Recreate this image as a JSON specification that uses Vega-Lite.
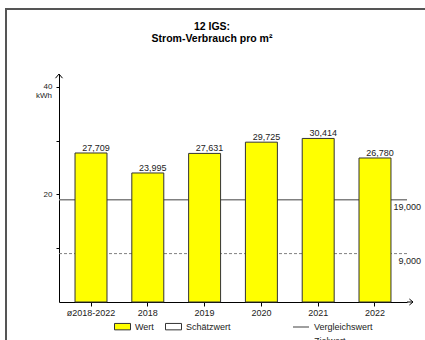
{
  "$schema": "https://vega.github.io/schema/vega-lite/v6.json",
  "width": 348,
  "height": 228,
  "autosize": {"type": "none"},
  "padding": {"left": 59, "top": 74, "right": 18, "bottom": 38},
  "background": "white",
  "config": {
    "view": {"stroke": null},
    "font": "Liberation Sans",
    "locale": {"number": {"decimal": ",", "thousands": ".", "grouping": [3], "currency": ["", " €"]}}
  },
  "title": {
    "text": ["12 IGS:", "Strom-Verbrauch pro m²"],
    "fontSize": 10.5,
    "fontWeight": "bold",
    "font": "Liberation Sans",
    "color": "#000",
    "anchor": "middle",
    "dx": -21,
    "offset": -36,
    "lineHeight": 12
  },
  "datasets": {
    "bars": [
      {"jahr": "ø2018-2022", "wert": 27.709, "typ": "Wert"},
      {"jahr": "2018", "wert": 23.995, "typ": "Wert"},
      {"jahr": "2019", "wert": 27.631, "typ": "Wert"},
      {"jahr": "2020", "wert": 29.725, "typ": "Wert"},
      {"jahr": "2021", "wert": 30.414, "typ": "Wert"},
      {"jahr": "2022", "wert": 26.78, "typ": "Wert"}
    ],
    "refs": [
      {"art": "Vergleichswert", "wert": 19},
      {"art": "Zielwert", "wert": 9}
    ]
  },
  "layer": [
    {
      "data": {"values": [{}]},
      "mark": {"type": "rect", "fill": "transparent", "stroke": "#555", "strokeWidth": 2, "clip": false},
      "encoding": {"x": {"value": -53}, "x2": {"value": 380}, "y": {"value": -65}, "y2": {"value": 290}}
    },
    {
      "data": {"name": "refs"},
      "mark": {"type": "rule", "color": "#808080"},
      "encoding": {
        "y": {"field": "wert", "type": "quantitative"},
        "strokeDash": {
          "field": "art", "type": "nominal",
          "scale": {"domain": ["Vergleichswert", "Zielwert"], "range": [[1, 0], [3, 2]]},
          "legend": {
            "title": null, "orient": "none", "legendX": 233, "legendY": 244,
            "direction": "vertical", "symbolType": "stroke", "symbolSize": 256,
            "symbolStrokeColor": "#808080", "symbolStrokeWidth": 2,
            "labelFontSize": 9, "labelColor": "#222", "labelOffset": 4,
            "rowPadding": -2, "padding": 0
          }
        },
        "strokeWidth": {
          "field": "art", "type": "ordinal",
          "scale": {"domain": ["Vergleichswert", "Zielwert"], "range": [1.5, 1]},
          "legend": null
        }
      }
    },
    {
      "data": {"name": "bars"},
      "mark": {"type": "bar", "stroke": "#333", "strokeWidth": 1},
      "encoding": {
        "x": {
          "field": "jahr", "type": "nominal", "sort": null,
          "scale": {"paddingInner": 0.437, "paddingOuter": 0.282},
          "axis": {
            "title": null, "labelAngle": 0, "labelFontSize": 9, "labelColor": "#222",
            "tickSize": 4, "tickColor": "#000", "domainColor": "#000", "labelPadding": 2, "grid": false
          }
        },
        "y": {
          "field": "wert", "type": "quantitative",
          "scale": {"domain": [0, 42.4], "nice": false, "zero": true},
          "axis": {
            "values": [10, 20, 30, 40],
            "labelExpr": "datum.value == 20 || datum.value == 40 ? datum.label : ''",
            "title": "kWh", "titleAngle": 0, "titleX": -15.5, "titleY": 23,
            "titleAlign": "center", "titleBaseline": "alphabetic", "titleFontSize": 8,
            "titleFontWeight": "normal", "titleColor": "#222",
            "labelFontSize": 8, "labelColor": "#222", "tickSize": 3, "labelPadding": 4,
            "domainColor": "#000", "tickColor": "#000", "grid": false
          }
        },
        "fill": {
          "field": "typ", "type": "nominal",
          "scale": {"domain": ["Wert", "Schätzwert"], "range": ["#ffff00", "#ffffff"]},
          "legend": {
            "title": null, "orient": "none", "legendX": 55, "legendY": 244,
            "direction": "horizontal", "symbolType": "M-1,-0.4H1V0.4H-1Z", "symbolSize": 256,
            "symbolStrokeColor": "#333", "symbolStrokeWidth": 1,
            "labelFontSize": 9, "labelColor": "#222", "labelOffset": 4,
            "columnPadding": 9, "padding": 0
          }
        }
      }
    },
    {
      "data": {"name": "bars"},
      "mark": {"type": "text", "dx": 5, "dy": -2, "baseline": "alphabetic", "fontSize": 9, "color": "#222"},
      "encoding": {
        "x": {"field": "jahr", "type": "nominal", "sort": null},
        "y": {"field": "wert", "type": "quantitative"},
        "text": {"field": "wert", "type": "quantitative", "format": ".3f"}
      }
    },
    {
      "data": {"name": "refs"},
      "mark": {"type": "text", "align": "right", "baseline": "top", "dx": 14, "dy": 3, "fontSize": 9, "color": "#222"},
      "encoding": {
        "x": {"value": "width"},
        "y": {"field": "wert", "type": "quantitative"},
        "text": {"field": "wert", "type": "quantitative", "format": ".3f"}
      }
    },
    {
      "data": {"values": [{}]},
      "mark": {"type": "point", "shape": "M-1,1.2L0,0L1,1.2", "size": 49, "stroke": "#000", "strokeWidth": 1, "filled": false, "opacity": 1, "clip": false},
      "encoding": {"x": {"value": 0}, "y": {"datum": 42.4}}
    },
    {
      "data": {"values": [{}]},
      "mark": {"type": "point", "shape": "M0,0H2M0.8,-1L2,0L0.8,1", "size": 36, "stroke": "#000", "strokeWidth": 1, "filled": false, "opacity": 1, "clip": false},
      "encoding": {"x": {"value": "width"}, "y": {"datum": 0}}
    }
  ]
}
